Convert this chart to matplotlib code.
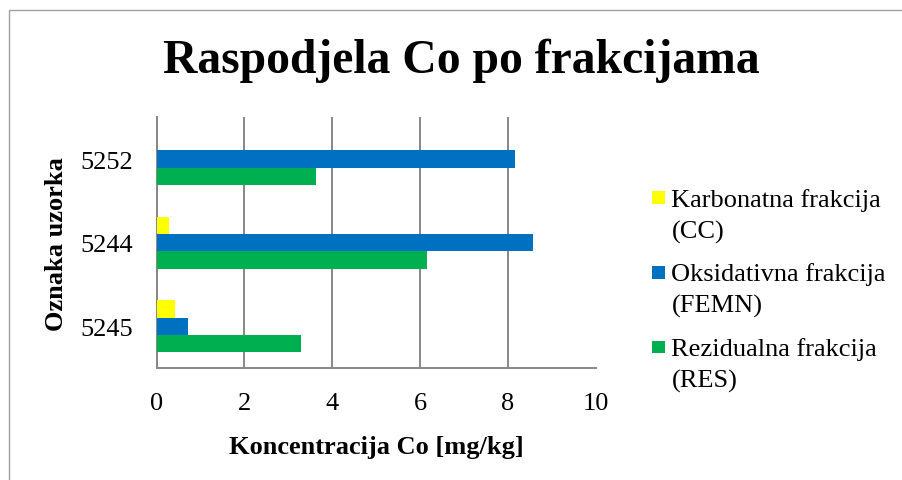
import matplotlib
matplotlib.use("Agg")
import matplotlib.pyplot as plt
from matplotlib.patches import Rectangle
import numpy as np

categories = ["5245", "5244", "5252"]
series_names = ["Karbonatna frakcija\n(CC)", "Oksidativna frakcija\n(FEMN)", "Rezidualna frakcija\n(RES)"]
cc_values = [0.41, 0.28, 0.0]
femn_values = [0.71, 8.58, 8.17]
res_values = [3.29, 6.17, 3.62]
colors = ["#FFFF00", "#0070C0", "#00B050"]
x_ticks = [0, 2, 4, 6, 8, 10]

plt.rcParams['font.family'] = ['Liberation Serif', 'DejaVu Serif']

W, H = 903, 481
fig = plt.figure(figsize=(W / 100, H / 100), dpi=100)
fig.patch.set_facecolor("white")

# axes in pixel coords
x0, x1 = 156.7, 595.5
y0, y1 = 118.3, 369.0
ax = fig.add_axes([x0 / W, 1 - y1 / H, (x1 - x0) / W, (y1 - y0) / H])

pos = np.arange(len(categories))
bh = 0.208
for i, (vals, c) in enumerate(zip([cc_values, femn_values, res_values], colors)):
    ax.barh(pos + (1 - i) * bh, vals, height=bh, color=c, edgecolor='none', zorder=3)

ax.set_xlim(0, 10)
ax.set_ylim(-0.5, 2.5)
ax.set_xticks(x_ticks)
ax.set_xticklabels([str(t) for t in x_ticks], fontsize=19)
ax.set_yticks(pos)
ax.set_yticklabels(categories, fontsize=19)
ax.tick_params(length=0)
ax.tick_params(axis='y', pad=17)
ax.tick_params(axis='x', pad=17.5)
ax.grid(axis='x', color='#878787', linewidth=1.4, zorder=0)
for s in ['top', 'right']:
    ax.spines[s].set_visible(False)
for s in ['left', 'bottom']:
    ax.spines[s].set_color('#878787')
    ax.spines[s].set_linewidth(1.4)

ax.set_xlabel("Koncentracija Co [mg/kg]", fontsize=19, fontweight='bold', labelpad=15)
ax.set_ylabel("Oznaka uzorka", fontsize=19, fontweight='bold', labelpad=9)

fig.text(461.4 / W, 1 - 73.3 / H, "Raspodjela Co po frakcijama", fontsize=34.3,
         fontweight='bold', ha='center', va='baseline')

# legend drawn manually
baselines = [206.7, 281.5, 356.0]
line_gap = 31.5
for yb, name, c in zip(baselines, series_names, colors):
    fig.patches.append(Rectangle((651.7 / W, 1 - (yb - 1.7) / H), 13 / W, 12.7 / H,
                                 transform=fig.transFigure, facecolor=c, edgecolor='none'))
    fig.text(671.5 / W, 1 - (yb + line_gap) / H, name, fontsize=19, ha='left',
             va='baseline', linespacing=1.5)

# outer chart frame
fig.patches.append(Rectangle((8.5 / W, -0.1), 1.2, 1 - 10.5 / H + 0.1,
                             transform=fig.transFigure, facecolor='none',
                             edgecolor='#a0a0a0', linewidth=1.0))

fig.savefig("out.png", dpi=100)
